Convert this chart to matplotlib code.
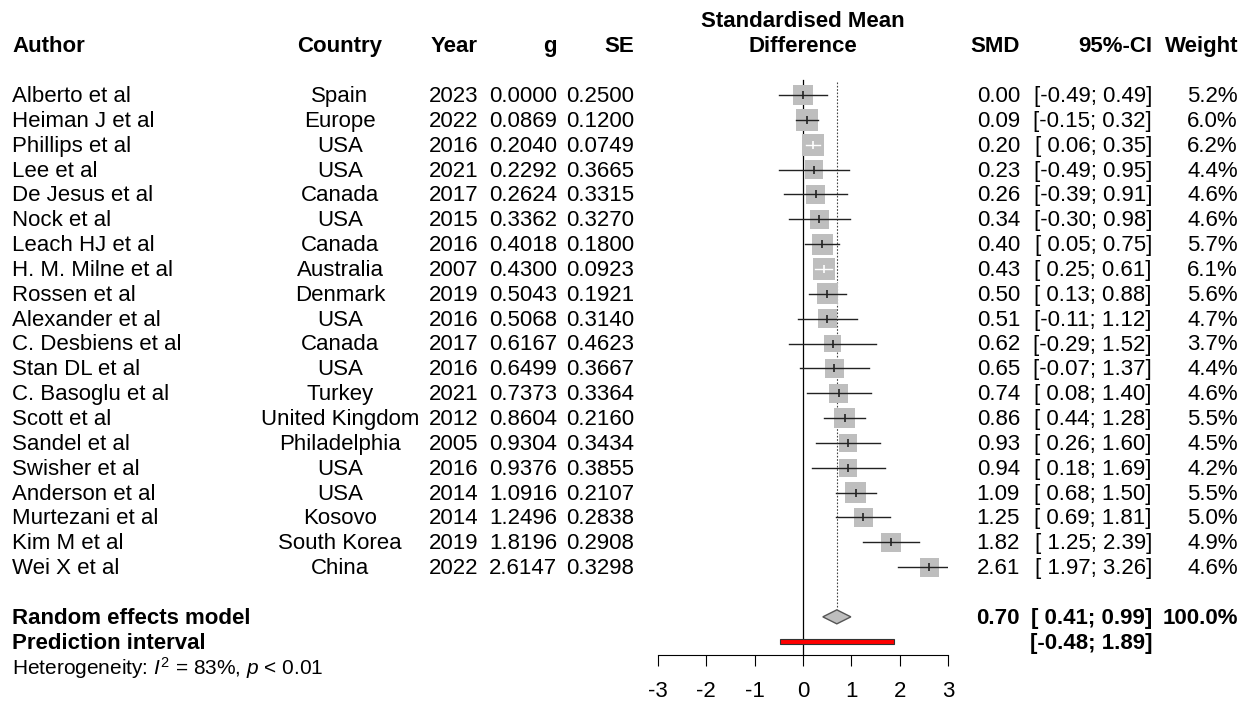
"""Forest plot of standardised mean differences (random effects meta-analysis)."""

import matplotlib
matplotlib.use("Agg")
import matplotlib.pyplot as plt
from matplotlib.patches import Polygon, Rectangle
from matplotlib.transforms import blended_transform_factory

plt.rcParams["font.family"] = ["Liberation Sans", "DejaVu Sans"]
plt.rcParams["mathtext.fontset"] = "custom"
plt.rcParams["mathtext.rm"] = "Liberation Sans"
plt.rcParams["mathtext.it"] = "Liberation Sans:italic"

authors = [
    "Alberto et al", "Heiman J et al", "Phillips et al", "Lee et al",
    "De Jesus et al", "Nock et al", "Leach HJ et al", "H. M. Milne et al",
    "Rossen et al", "Alexander et al", "C. Desbiens et al", "Stan DL et al",
    "C. Basoglu et al", "Scott et al", "Sandel et al", "Swisher et al",
    "Anderson et al", "Murtezani et al", "Kim M et al", "Wei X et al",
]
countries = [
    "Spain", "Europe", "USA", "USA", "Canada", "USA", "Canada", "Australia",
    "Denmark", "USA", "Canada", "USA", "Turkey", "United Kingdom",
    "Philadelphia", "USA", "USA", "Kosovo", "South Korea", "China",
]
years = [2023, 2022, 2016, 2021, 2017, 2015, 2016, 2007, 2019, 2016,
         2017, 2016, 2021, 2012, 2005, 2016, 2014, 2014, 2019, 2022]
g = [0.0000, 0.0869, 0.2040, 0.2292, 0.2624, 0.3362, 0.4018, 0.4300, 0.5043, 0.5068,
     0.6167, 0.6499, 0.7373, 0.8604, 0.9304, 0.9376, 1.0916, 1.2496, 1.8196, 2.6147]
se = [0.2500, 0.1200, 0.0749, 0.3665, 0.3315, 0.3270, 0.1800, 0.0923, 0.1921, 0.3140,
      0.4623, 0.3667, 0.3364, 0.2160, 0.3434, 0.3855, 0.2107, 0.2838, 0.2908, 0.3298]
ci_lo = [-0.49, -0.15, 0.06, -0.49, -0.39, -0.30, 0.05, 0.25, 0.13, -0.11,
         -0.29, -0.07, 0.08, 0.44, 0.26, 0.18, 0.68, 0.69, 1.25, 1.97]
ci_hi = [0.49, 0.32, 0.35, 0.95, 0.91, 0.98, 0.75, 0.61, 0.88, 1.12,
         1.52, 1.37, 1.40, 1.28, 1.60, 1.69, 1.50, 1.81, 2.39, 3.26]
weights = [5.2, 6.0, 6.2, 4.4, 4.6, 4.6, 5.7, 6.1, 5.6, 4.7,
           3.7, 4.4, 4.6, 5.5, 4.5, 4.2, 5.5, 5.0, 4.9, 4.6]

re_est, re_lo, re_hi = 0.70, 0.41, 0.99
pi_lo, pi_hi = -0.48, 1.89
x_ticks = [-3, -2, -1, 0, 1, 2, 3]

W, H = 1247, 704
FS = 16
ROW0, DY = 95, 24.85      # pixel y of first study row, row spacing
PX_PER_UNIT = 290 / 6
TXT_DY = 1.5 / DY         # text sits a touch lower than the marks


def row(ypx):
    return (ypx - ROW0) / DY


def fxp(px):
    return px / W


fig = plt.figure(figsize=(W / 100, H / 100), dpi=100)
ax = fig.add_axes([658 / W, 1 - 655 / H, 290 / W, (655 - 80) / H])
ax.set_xlim(-3, 3)
ax.set_ylim(row(655), row(80))
for s in ("left", "right", "top"):
    ax.spines[s].set_visible(False)
ax.spines["bottom"].set_linewidth(0.8)
ax.set_yticks([])
ax.set_xticks(x_ticks)
ax.set_xticklabels([str(t) for t in x_ticks], fontsize=FS)
ax.tick_params(axis="x", direction="out", length=8, width=0.8, pad=10.5)

# reference lines
ax.plot([0, 0], [row(80), row(655)], color="black", lw=0.9, clip_on=False)
ax.plot([re_est, re_est], [row(82), 21 - 0.3], color="#444444", lw=0.8,
        linestyle=(0, (1.5, 1.5)), clip_on=False)

# studies
for i in range(len(authors)):
    side_px = 22 * (weights[i] / 6.2) ** 0.5
    ax.scatter([g[i]], [i], marker="s", s=(side_px * 0.72) ** 2,
               color="#bebebe", edgecolor="none", zorder=2)
    inside = (ci_hi[i] - ci_lo[i]) * PX_PER_UNIT < side_px
    col = "white" if inside else "#222222"
    ax.plot([ci_lo[i], ci_hi[i]], [i, i], color=col, lw=1.0, zorder=3)
    ax.plot([g[i]], [i], marker="|", markersize=6, mew=1.2, color=col, zorder=4)

# random effects diamond
dh = 7 / DY
ax.add_patch(Polygon([(re_lo, 21), (re_est, 21 - dh), (re_hi, 21), (re_est, 21 + dh)],
                     closed=True, facecolor="#bebebe", edgecolor="#555555", lw=1.0,
                     clip_on=False, zorder=3))
# prediction interval
ax.add_patch(Rectangle((pi_lo, row(638.5)), pi_hi - pi_lo, 5 / DY,
                       facecolor="red", edgecolor="#333333", lw=0.8,
                       clip_on=False, zorder=3))

tr = blended_transform_factory(fig.transFigure, ax.transData)


def put(xpx, r, s, ha="left", bold=False, size=FS):
    fig.text(fxp(xpx), r + TXT_DY, s, transform=tr, ha=ha, va="center", fontsize=size,
             fontweight="bold" if bold else "normal")


# headers
hr = row(45)
put(12, hr, "Author", bold=True)
put(340, hr, "Country", ha="center", bold=True)
put(478, hr, "Year", ha="right", bold=True)
put(557, hr, "g", ha="right", bold=True)
put(634, hr, "SE", ha="right", bold=True)
put(803, row(20), "Standardised Mean", ha="center", bold=True)
put(803, hr, "Difference", ha="center", bold=True)
put(1020, hr, "SMD", ha="right", bold=True)
put(1152, hr, "95%-CI", ha="right", bold=True)
put(1238, hr, "Weight", ha="right", bold=True)


def fmt(v):
    return f"{v:5.2f}"


for i in range(len(authors)):
    put(12, i, authors[i])
    put(340, i, countries[i], ha="center")
    put(478, i, str(years[i]), ha="right")
    put(557, i, f"{g[i]:.4f}", ha="right")
    put(634, i, f"{se[i]:.4f}", ha="right")
    put(1020, i, f"{g[i]:.2f}", ha="right")
    put(1152, i, f"[{fmt(ci_lo[i])}; {ci_hi[i]:.2f}]", ha="right")
    put(1238, i, f"{weights[i]:.1f}%", ha="right")

put(12, 21, "Random effects model", bold=True)
put(1020, 21, f"{re_est:.2f}", ha="right", bold=True)
put(1152, 21, f"[{fmt(re_lo)}; {re_hi:.2f}]", ha="right", bold=True)
put(1238, 21, "100.0%", ha="right", bold=True)
put(12, 22, "Prediction interval", bold=True)
put(1152, 22, f"[{fmt(pi_lo)}; {pi_hi:.2f}]", ha="right", bold=True)
put(12, 23, r"Heterogeneity: $I^2$ = 83%, $p$ < 0.01", size=FS - 1)

fig.savefig("out.png", dpi=100)
